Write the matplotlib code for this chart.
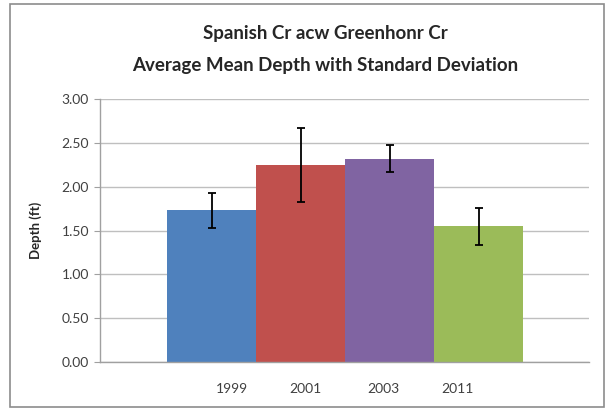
import matplotlib.pyplot as plt
from matplotlib.patches import Rectangle
import numpy as np

# data
years = ['1999', '2001', '2003', '2011']
mean_depth = [1.73, 2.25, 2.32, 1.55]
std_dev = [0.20, 0.42, 0.15, 0.21]
bar_colors = ['#4F81BD', '#C0504D', '#8064A2', '#9BBB59']

plt.rcParams['font.family'] = ['Lato', 'DejaVu Sans']

fig = plt.figure(figsize=(6.05, 4.09), dpi=100)
# outer chart frame (Excel style)
fig.patches.append(Rectangle((10/605, 2/409), 594/605, 403/409, transform=fig.transFigure,
                             fill=False, edgecolor='#8c8c8c', linewidth=1.2))

ax = fig.add_axes([100/605, 47/409, 489/605, 263/409])
x = np.arange(len(years))
ax.bar(x, mean_depth, width=1.0, color=bar_colors, zorder=2)
ax.errorbar(x, mean_depth, yerr=std_dev, fmt='none', ecolor='black',
            elinewidth=1.3, capsize=3, capthick=1.3, zorder=3)

# x scale chosen so bars sit where they do in the original
ax.set_xlim(-1.258, 4.236)
ax.set_ylim(0, 3.0)
ax.set_yticks(np.arange(0, 3.01, 0.5))
ax.set_yticklabels(['%.2f' % v for v in np.arange(0, 3.01, 0.5)], fontsize=10, color='#404040')
# the category labels are offset from the bars in the original
ax.set_xticks([0.225, 1.045, 1.92, 2.76])
ax.set_xticklabels(years, fontsize=10, color='#404040')
ax.tick_params(axis='x', length=0, pad=15)
ax.tick_params(axis='y', length=4, color='#a0a0a0', pad=4)

ax.yaxis.grid(True, color='#bfbfbf', linewidth=1.0, zorder=0)
ax.set_axisbelow(True)
for side in ['top', 'right']:
    ax.spines[side].set_visible(False)
for side in ['left', 'bottom']:
    ax.spines[side].set_color('#a0a0a0')
    ax.spines[side].set_linewidth(1.0)

ax.set_ylabel('Depth (ft)', fontsize=9.5, fontweight='bold', color='#262626', labelpad=14)

fig.text(325/605, 1 - 33/409, 'Spanish Cr acw Greenhonr Cr', ha='center', va='center',
         fontsize=13.5, fontweight='bold', color='#262626')
fig.text(325/605, 1 - 65/409, 'Average Mean Depth with Standard Deviation', ha='center', va='center',
         fontsize=13.5, fontweight='bold', color='#262626')

fig.savefig('out.png', dpi=100)
